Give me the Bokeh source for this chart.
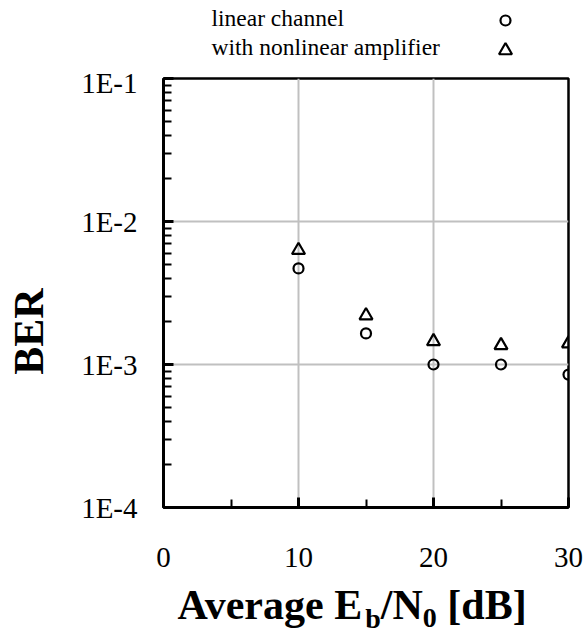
import math
from bokeh.plotting import figure
from bokeh.models import Range1d, FixedTicker
from bokeh.layouts import column, row
from bokeh.embed import file_html
from bokeh.resources import INLINE
from bokeh.core.properties import value

# ---------------- data ----------------
eb_n0 = [10, 15, 20, 25, 30]
ber_linear = [4.7e-3, 1.65e-3, 1.0e-3, 1.0e-3, 8.5e-4]
ber_nonlinear = [6.3e-3, 2.2e-3, 1.45e-3, 1.36e-3, 1.4e-3]
series_names = ["linear channel", "with nonlinear amplifier"]

x_ticks = [0, 10, 20, 30]
x_tick_labels = ["0", "10", "20", "30"]
x_minor_ticks = [5, 15, 25]
y_ticks = [1e-4, 1e-3, 1e-2, 1e-1]
y_tick_labels = ["1E-4", "1E-3", "1E-2", "1E-1"]
x_title_parts = [("Average E", False), ("b", True), ("/N", False), ("0", True), (" [dB]", False)]
y_title = "BER"

SERIF = "Liberation Serif"
W = 586
H = 635
LEG_H = 66
TOP_B = 12
FRAME_H = 429
BOT_B = 75
ROW_H = TOP_B + FRAME_H + BOT_B
TITLE_H = H - LEG_H - ROW_H
BER_W = 60
FRAME_L = 163
FRAME_W = 405
MID = 0.3375  # text is placed by the centre of its em box: baseline = anchor + MID * size


def strip(w, h, y_range=None):
    f = figure(width=w, height=h, x_range=Range1d(0, w),
               y_range=y_range if y_range is not None else Range1d(h, 0),
               output_backend="svg", toolbar_location=None, min_border=0,
               x_axis_location=None, y_axis_location=None)
    f.grid.visible = False
    f.outline_line_color = None
    f.background_fill_color = "white"
    f.border_fill_color = "white"
    return f


# ---------------- legend strip ----------------
LEG_FS = 23.5
leg = strip(W, LEG_H)
leg.text(x=[211, 211], y=[25 - MID * LEG_FS, 54 - MID * LEG_FS], text=series_names,
         text_font=value(SERIF), text_font_size=f"{LEG_FS}px", text_baseline="middle",
         text_align="left", text_color="black")
leg.scatter(x=[505], y=[20], marker="circle", size=10, fill_alpha=0,
            line_color="black", line_width=2.2)
leg.scatter(x=[505], y=[50], marker="triangle", size=13, fill_alpha=0,
            line_color="black", line_width=2.2)

# ---------------- BER strip (frame aligned with the plot frame; page-pixel coordinates) ----------------
ber = strip(BER_W, ROW_H, y_range=Range1d(LEG_H + TOP_B + FRAME_H, LEG_H + TOP_B))
ber.min_border_top = TOP_B
ber.min_border_bottom = BOT_B
ber.text(x=[43 - MID * 42], y=[331], text=[y_title], angle=math.pi / 2, text_font=value(SERIF),
         text_font_size="42px", text_font_style="bold", text_align="center",
         text_baseline="middle", text_color="black")

# ---------------- main plot ----------------
MAIN_W = W - BER_W
p = figure(width=MAIN_W, height=ROW_H, x_range=Range1d(0, 30), y_range=Range1d(1e-4, 1e-1),
           y_axis_type="log", output_backend="svg", toolbar_location=None,
           min_border_left=FRAME_L - BER_W,
           min_border_right=MAIN_W - (FRAME_L - BER_W) - FRAME_W,
           min_border_top=TOP_B, min_border_bottom=BOT_B)
p.background_fill_color = "white"
p.border_fill_color = "white"
p.outline_line_color = "black"
p.outline_line_width = 2.5

p.xaxis.ticker = FixedTicker(ticks=x_ticks, minor_ticks=x_minor_ticks)
p.xaxis.major_label_overrides = dict(zip(x_ticks, x_tick_labels))
p.xaxis.major_label_standoff = 40

p.yaxis.ticker = FixedTicker(ticks=y_ticks,
                             minor_ticks=[m * 10.0 ** e for e in (-4, -3, -2) for m in range(2, 10)])
p.yaxis.major_label_overrides = dict(zip(y_ticks, y_tick_labels))
p.yaxis.major_label_standoff = 26

for ax in (p.xaxis, p.yaxis):
    ax.axis_line_width = 3
    ax.axis_line_color = "black"
    ax.major_tick_in = 10
    ax.major_tick_out = 0
    ax.minor_tick_in = 8
    ax.minor_tick_out = 0
    ax.major_tick_line_width = 3
    ax.minor_tick_line_width = 2
    ax.major_tick_line_color = "black"
    ax.minor_tick_line_color = "black"
    ax.major_label_text_font = SERIF
    ax.major_label_text_font_size = "29px"
    ax.major_label_text_color = "black"

p.xgrid.grid_line_color = "#c0c0c0"
p.ygrid.grid_line_color = "#c0c0c0"
p.xgrid.grid_line_width = 2
p.ygrid.grid_line_width = 2

p.scatter(eb_n0, ber_linear, marker="circle", size=10, fill_alpha=0,
          line_color="black", line_width=2.2)
p.scatter(eb_n0, ber_nonlinear, marker="triangle", size=13, fill_alpha=0,
          line_color="black", line_width=2.2)

# ---------------- title strip ----------------
BOLD_W = {'A': 722, 'v': 500, 'e': 444, 'r': 444, 'a': 500, 'g': 500, ' ': 250, 'E': 667,
          'b': 556, '/': 278, 'N': 722, '0': 500, '[': 333, 'd': 556, 'B': 667, ']': 333}


def tw(s, size):
    return sum(BOLD_W.get(c, 500) for c in s) / 1000.0 * size


TITLE_TOP = LEG_H + ROW_H
tit = strip(W, TITLE_H)
xs, ys, ts, ss = [], [], [], []
cx = 177.0
for txt, sub in x_title_parts:
    size = 28 if sub else 42
    base = 627 if sub else 619
    lead = len(txt) - len(txt.lstrip())
    xs.append(cx + tw(txt[:lead], size))
    ys.append(base - TITLE_TOP - MID * size)
    ts.append(txt.strip())
    ss.append(f"{size}px")
    cx += tw(txt, size)
tit.text(x=xs, y=ys, text=ts, text_font_size=ss, text_font=value(SERIF), text_font_style="bold",
         text_align="left", text_baseline="middle", text_color="black")

layout = column(leg, row(ber, p, spacing=0), tit, spacing=0)
open("out.html", "w").write(file_html(layout, INLINE))
